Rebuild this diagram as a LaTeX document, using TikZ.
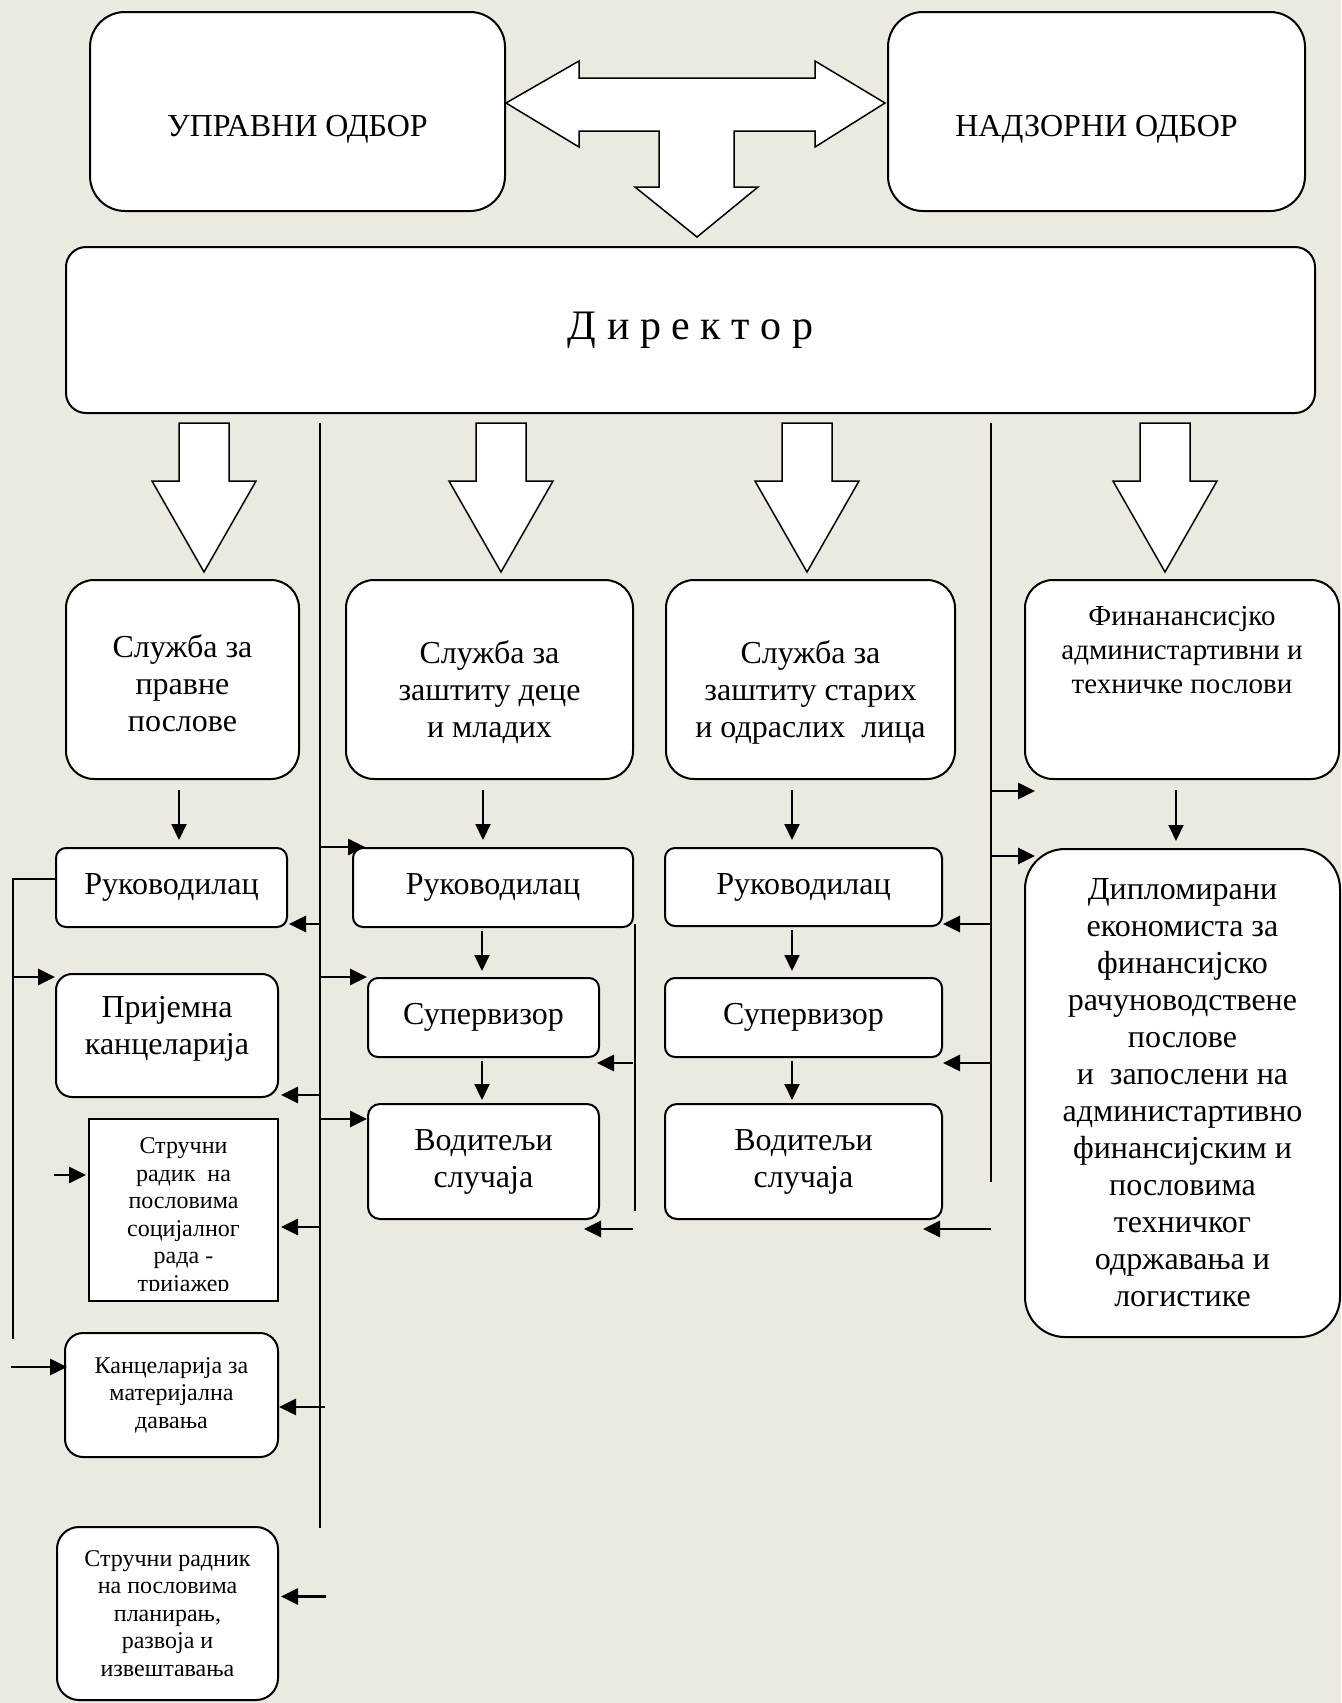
\documentclass[tikz,border=0pt]{standalone}
\usepackage{fontspec}
\setmainfont{Liberation Serif}
\usepackage{xcolor}
\definecolor{bgbeige}{RGB}{236,233,224}
\usepackage{tikz}
\usetikzlibrary{arrows.meta,positioning,calc}

\begin{document}
\begin{tikzpicture}[
    x=0.5pt, y=-0.5pt,
    box/.style={rectangle, draw, line width=1pt, fill=white, align=center, inner sep=0pt},
    bigtxt/.style={font=\fontsize{16}{18.5}\selectfont, align=center},
    midtxt/.style={font=\fontsize{14.5}{17}\selectfont, align=center},
    smalltxt/.style={font=\fontsize{12}{13.75}\selectfont, align=center},
    bus/.style={line width=0.9pt},
    harr/.style={-{Triangle[length=8.5pt,width=8pt]}, line width=1.4pt},
    varr/.style={-{Triangle[length=8pt,width=7.5pt]}, line width=1pt},
    blockarr/.style={draw, fill=white, line width=0.75pt, line join=miter}
]
% Background
\fill[bgbeige] (0,0) rectangle (1341,1703);
\useasboundingbox (0,0) rectangle (1341,1703);

% Boards
\node[box, minimum width=207.5pt, minimum height=99.5pt, rounded corners=17.5pt] (uo) at (297.5,111.5) {};
\node[bigtxt] (uotxt) at ($(uo.center)+(0,18)$) {УПРАВНИ ОДБОР};
\node[box, minimum width=208.5pt, minimum height=99.5pt, rounded corners=17.5pt] (no) at (1096.5,111.5) {};
\node[bigtxt] (notxt) at ($(no.center)+(0,18)$) {НАДЗОРНИ ОДБОР};

% Director
\node[box, minimum width=624.5pt, minimum height=83pt, rounded corners=10pt, font=\fontsize{21}{24}\selectfont] (dir) at (690.5,330) {Д и р е к т о р};

% T-shaped block arrow
\draw[blockarr] (506,103) -- (579,61) -- (579,78) -- (815,78) -- (815,61) -- (885,103) -- (815,147) -- (815,131) -- (734,131) -- (734,187) -- (758,187) -- (697,237) -- (635,187) -- (659,187) -- (659,131) -- (579,131) -- (579,147) -- cycle;

% Block arrows below the director
\foreach \cx in {204,501,807,1165}
    \draw[blockarr] (\cx-25,423) -- (\cx+25,423) -- (\cx+25,481) -- (\cx+52,481) -- (\cx,572) -- (\cx-52,481) -- (\cx-25,481) -- cycle;

% Services
\node[box, minimum width=116.5pt, minimum height=99.5pt, rounded corners=14pt] (svc1) at (182.5,679.5) {};
\node[bigtxt] (svc1txt) at ($(svc1.center)+(0,4)$) {Служба за\\правне\\послове};
\node[box, minimum width=143.5pt, minimum height=99.5pt, rounded corners=14pt] (svc2) at (489.5,679.5) {};
\node[bigtxt] (svc2txt) at ($(svc2.center)+(0,13)$) {Служба за\\заштиту деце\\и младих};
\node[box, minimum width=144.5pt, minimum height=99.5pt, rounded corners=14pt] (svc3) at (810.5,679.5) {};
\node[bigtxt] (svc3txt) at ($(svc3.center)+(0,13)$) {Служба за\\заштиту старих\\и одраслих\ \ лица};
\node[box, minimum width=157pt, minimum height=99.5pt, rounded corners=14pt] (fin) at (1182,679.5) {};
\node[midtxt, below=10pt of fin.north] (fintxt) {Финанансисјко\\администартивни и\\техничке послови};

% Left column
\node[box, bigtxt, minimum width=115.5pt, minimum height=39.5pt, rounded corners=5pt] (ruk1) at (171.5,887.5) {Руководилац};
\node[box, minimum width=111pt, minimum height=61.5pt, rounded corners=8pt] (prij) at (167,1035.5) {};
\node[bigtxt] (prijtxt) at ($(prij.center)+(0,-7)$) {Пријемна\\канцеларија};
\node[box, minimum width=94.5pt, minimum height=91pt] (strad) at (183.5,1210) {};
\begin{scope}
    \clip ($(strad.south west)+(2,-12)$) rectangle (strad.north east);
    \node[smalltxt] (stradtxt) at (183.5,1217) {Стручни\\радик\ \ на\\пословима\\социјалног\\рада -\\тријажер};
\end{scope}
\node[box, smalltxt, minimum width=106.5pt, minimum height=62pt, rounded corners=9pt] (kanc) at (171.5,1395) {Канцеларија за\\материјална\\давања};
\node[box, smalltxt, minimum width=110.5pt, minimum height=86.5pt, rounded corners=11pt] (plan) at (167.5,1613.5) {Стручни радник\\на пословима\\планирањ,\\развоја и\\извештавања};

% Middle columns
\node[box, bigtxt, minimum width=140pt, minimum height=39.5pt, rounded corners=5pt] (ruk2) at (493,887.5) {Руководилац};
\node[box, bigtxt, minimum width=115.5pt, minimum height=39.5pt, rounded corners=5pt] (sup2) at (483.5,1017.5) {Супервизор};
\node[box, bigtxt, minimum width=115.5pt, minimum height=57.5pt, rounded corners=6pt, below=22.5pt of sup2] (vod2) {Водитељи\\случаја};
\node[box, bigtxt, minimum width=138.5pt, minimum height=39pt, rounded corners=5pt] (ruk3) at (803.5,887) {Руководилац};
\node[box, bigtxt, minimum width=138.5pt, minimum height=39.5pt, rounded corners=5pt, below=25pt of ruk3] (sup3) {Супервизор};
\node[box, bigtxt, minimum width=138.5pt, minimum height=57.5pt, rounded corners=6pt, below=22.5pt of sup3] (vod3) {Водитељи\\случаја};

% Right column
\node[box, bigtxt, minimum width=157.5pt, minimum height=244pt, rounded corners=20pt] (dipl) at (1182.5,1093) {Дипломирани\\економиста за\\финансијско\\рачуноводствене\\послове\\и\ \ запослени на\\администартивно\\финансијским и\\пословима\\техничког\\одржавања и\\логистике};

% Bus lines
\coordinate (busA) at (13,879);
\coordinate (busB) at (320,423);
\coordinate (busC) at ($(ruk2.south east)+(1,-4)$);
\coordinate (busD) at (991,423);
\draw[bus] (ruk1.west |- busA) -- (busA) -- ++(0,460);
\draw[bus] (busB) -- ++(0,1105);
\draw[bus] (busC) -- ++(0,287);
\draw[bus] (busD) -- ++(0,759);

% Arrows down
\draw[varr] ($(svc1.south)+(-3.5,10)$) -- ($(svc1.south |- ruk1.north)+(-3.5,-7)$);
\draw[varr] ($(svc2.south)+(-6.5,10)$) -- ($(svc2.south |- ruk2.north)+(-6.5,-7)$);
\draw[varr] ($(svc3.south)+(-18.5,10)$) -- ($(svc3.south |- ruk3.north)+(-18.5,-7)$);
\draw[varr] ($(fin.south)+(-6,10)$) -- ($(fin.south |- dipl.north)+(-6,-7)$);
\draw[varr] ($(sup2.north |- ruk2.south)+(-1.5,3)$) -- ($(sup2.north)+(-1.5,-6)$);
\draw[varr] ($(sup2.south)+(-1.5,3)$) -- ($(vod2.north)+(-1.5,-3)$);
\draw[varr] ($(ruk3.south)+(-11.5,3)$) -- ($(sup3.north)+(-11.5,-6)$);
\draw[varr] ($(sup3.south)+(-11.5,3)$) -- ($(vod3.north)+(-11.5,-3)$);

% Arrows from the left bus
\draw[harr] ($(busA |- prij.north west)+(0,4)$) -- ($(prij.north west)+(0,4)$);
\draw[harr] ($(strad.west)+(-34,-35)$) -- ($(strad.west)+(-2,-35)$);
\draw[harr] ($(kanc.west)+(-53,-28)$) -- ($(kanc.west)+(3,-28)$);

% Arrows from the main bus
\draw[harr] ($(busB |- ruk1.south east)+(0,-4)$) -- ($(ruk1.south east)+(1,-4)$);
\draw[harr] ($(busB |- prij.south east)+(0,-3)$) -- ($(prij.south east)+(2,-3)$);
\draw[harr] ($(busB |- strad.east)+(0,17)$) -- ($(strad.east)+(2,17)$);
\draw[harr] ($(busB |- kanc.east)+(5,12)$) -- ($(kanc.east)+(0,12)$);
\draw[harr] ($(plan.east)+(47,-17)$) -- ($(plan.east)+(2,-17)$);
\draw[harr] (busB |- ruk2.north west) -- ($(ruk2.north west)+(13,0)$);
\draw[harr] (busB |- sup2.north west) -- (sup2.north west);
\draw[harr] ($(busB |- vod2.north west)+(0,16)$) -- ($(vod2.north west)+(0,16)$);

% Arrows from the middle bus
\draw[harr] ($(busC |- sup2.south east)+(-2,5)$) -- ($(sup2.south east)+(-3,5)$);
\draw[harr] ($(busC |- vod2.south east)+(-2,9)$) -- ($(vod2.south east)+(-16,9)$);

% Arrows from the right bus
\draw[harr] ($(busD |- fin.south west)+(0,11)$) -- ($(fin.south west)+(11,11)$);
\draw[harr] ($(busD |- dipl.north west)+(0,8)$) -- ($(dipl.north west)+(11,8)$);
\draw[harr] ($(busD |- ruk3.south east)+(0,-3)$) -- ($(ruk3.south east)+(0,-3)$);
\draw[harr] ($(busD |- sup3.south east)+(0,5)$) -- ($(sup3.south east)+(0,5)$);
\draw[harr] ($(busD |- vod3.south east)+(0,9)$) -- ($(vod3.south east)+(-20,9)$);
\end{tikzpicture}
\end{document}
